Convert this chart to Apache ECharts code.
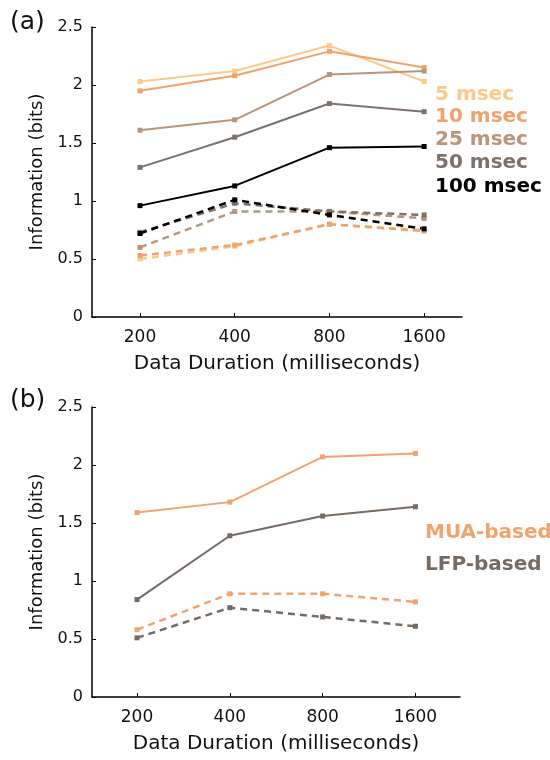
<!DOCTYPE html>
<html>
<head>
<meta charset="utf-8">
<script src="https://cdn.jsdelivr.net/npm/echarts@6/dist/echarts.min.js"></script>
<style>
  html, body { margin: 0; padding: 0; background: #fff; }
  #chart { width: 550px; height: 760px; }
</style>
</head>
<body>
<div id="chart"></div>
<script>
// x categories
var durations = ['200', '400', '800', '1600'];
var yTicks = [0, 0.5, 1, 1.5, 2, 2.5];

// (a) solid lines: full data
var solid5 = [2.03, 2.12, 2.34, 2.03];
var solid10 = [1.95, 2.08, 2.29, 2.15];
var solid25 = [1.61, 1.70, 2.09, 2.12];
var solid50 = [1.29, 1.55, 1.84, 1.77];
var solid100 = [0.96, 1.13, 1.46, 1.47];
// (a) dashed lines
var dash5 = [0.50, 0.61, 0.80, 0.75];
var dash10 = [0.53, 0.62, 0.80, 0.74];
var dash25 = [0.60, 0.91, 0.91, 0.85];
var dash50 = [0.73, 0.98, 0.91, 0.88];
var dash100 = [0.72, 1.01, 0.88, 0.76];

// (b)
var muaSolid = [1.59, 1.68, 2.07, 2.10];
var lfpSolid = [0.84, 1.39, 1.56, 1.64];
var muaDash = [0.58, 0.89, 0.89, 0.82];
var lfpDash = [0.51, 0.77, 0.69, 0.61];

var binNames = ['5 msec', '10 msec', '25 msec', '50 msec', '100 msec'];
var binColors = ['#FEC98C', '#F1A26C', '#B9957A', '#7D726B', '#000000'];
var bColors = ['#F1A46E', '#766B63'];

var FONT = 'DejaVu Sans';

function pts(arr) {
  return arr.map(function (v, i) { return [i, v]; });
}

function lineSeries(name, arr, color, dashed, axisIdx) {
  return {
    name: name,
    type: 'line',
    xAxisIndex: axisIdx,
    yAxisIndex: axisIdx,
    data: pts(arr),
    symbol: 'rect',
    symbolSize: 5,
    itemStyle: { color: color },
    lineStyle: { color: color, width: dashed ? 2.5 : 2, type: dashed ? [7, 5] : 'solid' },
    animation: false,
    z: dashed ? 2 : 3
  };
}

function xAxis(idx, min, max) {
  return {
    type: 'value',
    gridIndex: idx,
    min: min,
    max: max,
    name: 'Data Duration (milliseconds)',
    nameLocation: 'middle',
    nameGap: 37,
    nameTextStyle: { fontFamily: FONT, fontSize: 20, color: '#111' },
    axisLine: { onZero: false, lineStyle: { color: '#000', width: 1.5 } },
    axisTick: { inside: true, length: 4, customValues: [0, 1, 2, 3], lineStyle: { color: '#000' } },
    axisLabel: {
      customValues: [0, 1, 2, 3],
      margin: 12,
      fontFamily: FONT, fontSize: 17, color: '#111',
      formatter: function (v) { return durations[Math.round(v)]; }
    },
    splitLine: { show: false }
  };
}

function yAxis(idx) {
  return {
    type: 'value',
    gridIndex: idx,
    min: 0,
    max: 2.5,
    interval: 0.5,
    name: 'Information (bits)',
    nameLocation: 'middle',
    nameGap: 45,
    nameTextStyle: { fontFamily: FONT, fontSize: 18, color: '#111' },
    axisLine: { show: true, onZero: false, lineStyle: { color: '#000', width: 1.5 } },
    axisTick: { show: true, inside: true, length: 4, lineStyle: { color: '#000' } },
    axisLabel: {
      margin: 9, fontFamily: FONT, fontSize: 16, color: '#111',
      formatter: function (v) { return String(v); }
    },
    splitLine: { show: false }
  };
}

var series = [];
var dashSets = [dash5, dash10, dash25, dash50, dash100];
var solidSets = [solid5, solid10, solid25, solid50, solid100];
for (var i = 0; i < 5; i++) series.push(lineSeries(binNames[i], dashSets[i], binColors[i], true, 0));
for (var i = 0; i < 5; i++) series.push(lineSeries(binNames[i], solidSets[i], binColors[i], false, 0));
series.push(lineSeries('MUA-based', muaDash, bColors[0], true, 1));
series.push(lineSeries('LFP-based', lfpDash, bColors[1], true, 1));
series.push(lineSeries('MUA-based', muaSolid, bColors[0], false, 1));
series.push(lineSeries('LFP-based', lfpSolid, bColors[1], false, 1));

// legend texts
var graphics = [
  { type: 'text', x: 10, y: 22, style: { text: '(a)', fill: '#111', font: '25px ' + FONT, verticalAlign: 'middle' } },
  { type: 'text', x: 10, y: 400, style: { text: '(b)', fill: '#111', font: '25px ' + FONT, verticalAlign: 'middle' } }
];
var legendY = [95, 117, 140, 163, 187];
binNames.forEach(function (n, i) {
  graphics.push({ type: 'text', x: 435, y: legendY[i], style: { text: n, fill: binColors[i], font: 'bold 20px ' + FONT, verticalAlign: 'middle' } });
});
graphics.push({ type: 'text', x: 425, y: 533, style: { text: 'MUA-based', fill: bColors[0], font: 'bold 20px ' + FONT, verticalAlign: 'middle' } });
graphics.push({ type: 'text', x: 425, y: 565, style: { text: 'LFP-based', fill: bColors[1], font: 'bold 20px ' + FONT, verticalAlign: 'middle' } });

var chart = echarts.init(document.getElementById('chart'));
chart.setOption({
  backgroundColor: '#fff',
  animation: false,
  grid: [
    { left: 92, top: 27, width: 370, height: 290 },
    { left: 92, top: 407, width: 368, height: 290 }
  ],
  xAxis: [xAxis(0, -0.507, 3.40), xAxis(1, -0.485, 3.48)],
  yAxis: [yAxis(0), yAxis(1)],
  series: series,
  graphic: graphics
});
</script>
</body>
</html>
